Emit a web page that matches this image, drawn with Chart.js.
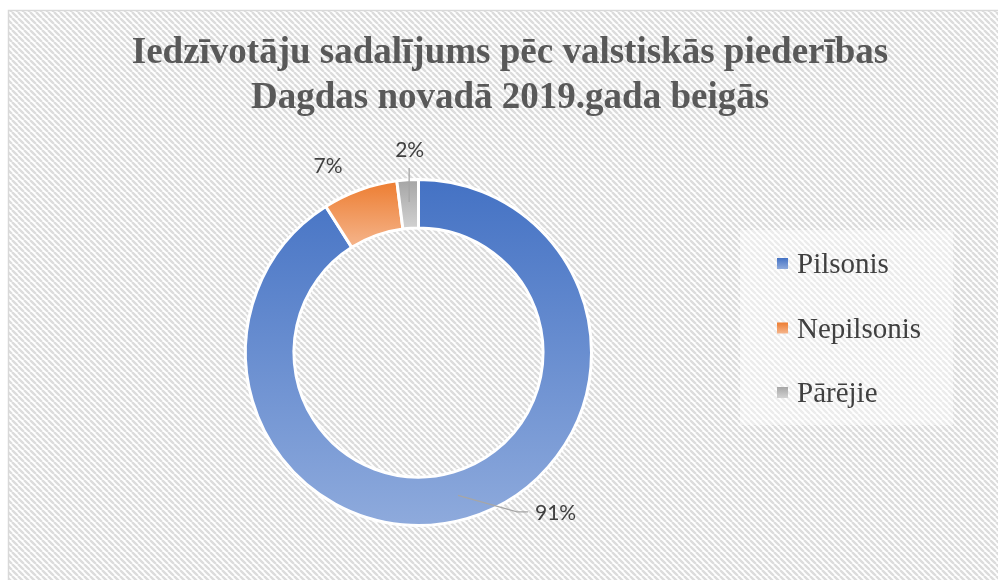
<!DOCTYPE html>
<html>
<head>
<meta charset="utf-8">
<script src="https://cdn.jsdelivr.net/npm/chart.js@4.4.1/dist/chart.umd.min.js"></script>
<style>
  html, body { margin:0; padding:0; background:#fff; }
  canvas { display:block; }
</style>
</head>
<body>
<canvas id="grafiks" width="998" height="580"></canvas>
<script>
// Dati
const virsraksts = ['Iedzīvotāju sadalījums pēc valstiskās piederības', 'Dagdas novadā 2019.gada beigās'];
const kategorijas = ['Pilsonis', 'Nepilsonis', 'Pārējie'];
const vertibas = [91, 7, 2]; // %

// krāsas (gradients no augšas uz leju katram segmentam)
const krasasAugsa = ['#4472c4', '#ed7d31', '#a5a5a5'];
const krasasApaksa = ['#8eaadc', '#f5b58c', '#d2d2d2'];

// etiķešu novietojums attiecībā pret segmenta vidu (gredzena vidusrādiusā)
const etiketes = [
  { x: 75, y: 25, align: 'left', liniju: [[-2, 0], [57, 16.5], [68, 16.5]] },
  { x: -40, y: -40, align: 'center', liniju: null },
  { x: 0.5, y: -47, align: 'center', liniju: [[0, -2], [0, -36]] }
];

function svitrojums() {
  const s = 6, c = document.createElement('canvas');
  c.width = c.height = s;
  const g = c.getContext('2d');
  g.fillStyle = '#fff'; g.fillRect(0, 0, s, s);
  g.strokeStyle = '#dcdcdc'; g.lineWidth = 2.4;
  g.beginPath();
  for (const o of [-s, 0, s]) { g.moveTo(o, 0); g.lineTo(o + s, s); }
  g.stroke();
  return c;
}

const fons = {
  id: 'fons',
  beforeDraw(chart) {
    const ctx = chart.ctx, W = chart.width, H = chart.height;
    ctx.save();
    ctx.fillStyle = '#fff';
    ctx.fillRect(0, 0, W, H);
    ctx.fillStyle = ctx.createPattern(svitrojums(), 'repeat');
    ctx.fillRect(9, 11, W, H);
    ctx.strokeStyle = '#d9d9d9'; ctx.lineWidth = 1.5;
    ctx.strokeRect(8.5, 10.5, W + 10, H + 10);

    // virsraksts
    ctx.fillStyle = '#595959';
    ctx.font = 'bold 37px "Liberation Serif", "Times New Roman", serif';
    ctx.textAlign = 'center'; ctx.textBaseline = 'alphabetic';
    ctx.fillText(virsraksts[0], 510, 63);
    ctx.fillText(virsraksts[1], 510, 108);

    // leģenda
    ctx.fillStyle = 'rgba(255,255,255,0.45)';
    ctx.fillRect(740, 230, 213, 195);
    const rindas = [263.5, 328, 392.5];
    ctx.font = '29px "Liberation Serif", "Times New Roman", serif';
    ctx.textAlign = 'left';
    kategorijas.forEach((k, i) => {
      const y = rindas[i];
      const gr = ctx.createLinearGradient(0, y - 5.5, 0, y + 5.5);
      gr.addColorStop(0, krasasAugsa[i]); gr.addColorStop(1, krasasApaksa[i]);
      ctx.fillStyle = gr;
      ctx.fillRect(777, y - 5.5, 11, 11);
      ctx.fillStyle = '#404040';
      ctx.fillText(k, 797, y + 9.5);
    });
    ctx.restore();
  },
  beforeDatasetsDraw(chart) {
    const ctx = chart.ctx;
    chart.getDatasetMeta(0).data.forEach((arc, i) => {
      let min = Infinity, max = -Infinity;
      for (let t = 0; t <= 60; t++) {
        const a = arc.startAngle + (arc.endAngle - arc.startAngle) * t / 60;
        for (const r of [arc.innerRadius, arc.outerRadius]) {
          const y = arc.y + r * Math.sin(a);
          min = Math.min(min, y); max = Math.max(max, y);
        }
      }
      const gr = ctx.createLinearGradient(0, min, 0, max);
      gr.addColorStop(0, krasasAugsa[i]); gr.addColorStop(1, krasasApaksa[i]);
      arc.options = Object.assign({}, arc.options, { backgroundColor: gr });
    });
  },
  afterDatasetsDraw(chart) {
    const ctx = chart.ctx;
    const kopa = vertibas.reduce((a, b) => a + b, 0);
    ctx.save();
    ctx.font = '21px Lato, "Noto Sans", sans-serif';
    ctx.textBaseline = 'alphabetic';
    chart.getDatasetMeta(0).data.forEach((arc, i) => {
      const a = (arc.startAngle + arc.endAngle) / 2;
      const r = (arc.innerRadius + arc.outerRadius) / 2;
      const ax = arc.x + r * Math.cos(a), ay = arc.y + r * Math.sin(a);
      const e = etiketes[i];
      if (e.liniju) {
        ctx.strokeStyle = '#a6a6a6'; ctx.lineWidth = 1.3;
        ctx.beginPath();
        e.liniju.forEach(([dx, dy], j) => j ? ctx.lineTo(ax + dx, ay + dy) : ctx.moveTo(ax + dx, ay + dy));
        ctx.stroke();
      }
      ctx.fillStyle = '#404040';
      ctx.textAlign = e.align;
      ctx.fillText(Math.round(vertibas[i] / kopa * 100) + '%', ax + e.x, ay + e.y);
    });
    ctx.restore();
  }
};

new Chart(document.getElementById('grafiks').getContext('2d'), {
  type: 'doughnut',
  data: {
    labels: kategorijas,
    datasets: [{
      data: vertibas,
      backgroundColor: krasasAugsa,
      borderColor: '#ffffff',
      borderWidth: 3
    }]
  },
  options: {
    responsive: false,
    devicePixelRatio: 1,
    animation: false,
    cutout: '72%',
    layout: { padding: { top: 178, bottom: 53, left: 244, right: 405 } },
    plugins: { legend: { display: false }, title: { display: false }, tooltip: { enabled: false } }
  },
  plugins: [fons]
});
</script>
</body>
</html>
